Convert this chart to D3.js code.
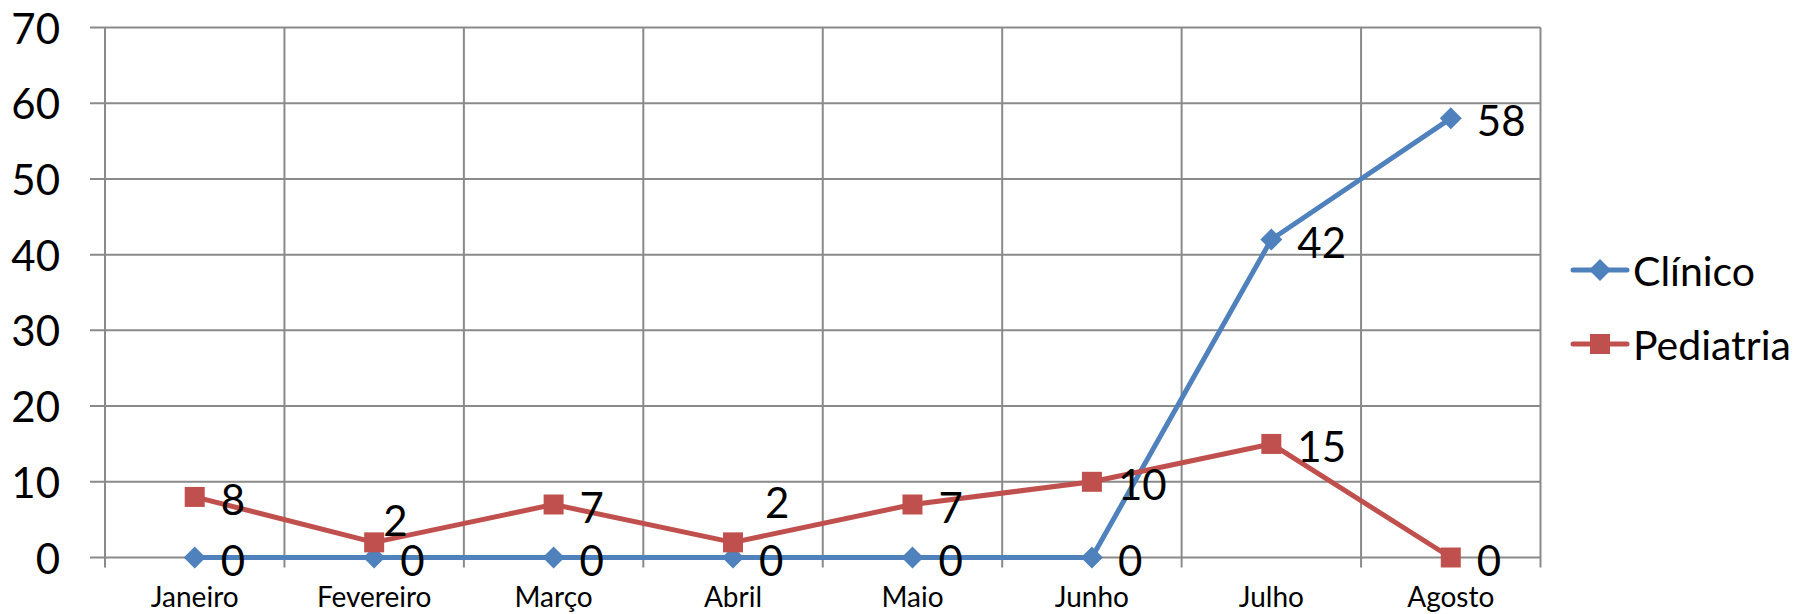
<!DOCTYPE html>
<html>
<head>
<meta charset="utf-8">
<script src="https://cdn.jsdelivr.net/npm/d3@7"></script>
<style>
  html, body { margin: 0; padding: 0; background: #fff; }
  svg { display: block; font-family: Lato, "Open Sans", sans-serif; }
</style>
</head>
<body>
<svg id="chart" width="1808" height="614"></svg>
<script>
// ---- data ----
const categories = ["Janeiro", "Fevereiro", "Março", "Abril", "Maio", "Junho", "Julho", "Agosto"];
const clinico    = [0, 0, 0, 0, 0, 0, 42, 58];
const pediatria  = [8, 2, 7, 2, 7, 10, 15, 0];
const yTicks     = [0, 10, 20, 30, 40, 50, 60, 70];
const seriesNames = ["Clínico", "Pediatria"];

// ---- styles / layout ----
const colors = ["#4F81BD", "#C0504D"];
const gridColor = "#8a8a8a";
const margin = { left: 105, right: 1540.5, top: 27.5, bottom: 557.5 };
// manual label nudges (label moved in the original for two points)
const labelNudge = { "Pediatria|Fevereiro": [9, -22], "Pediatria|Abril": [32, -40] };

const svg = d3.select("#chart");
const x = d3.scaleBand().domain(categories).range([margin.left, margin.right]);
const y = d3.scaleLinear().domain([0, 70]).range([margin.bottom, margin.top]);
const cx = c => x(c) + x.bandwidth() / 2;

// horizontal gridlines (with outward tick)
svg.append("g").selectAll("line").data(yTicks).join("line")
  .attr("x1", margin.left - 15).attr("x2", margin.right)
  .attr("y1", d => y(d)).attr("y2", d => y(d))
  .attr("stroke", gridColor).attr("stroke-width", 2);

// vertical gridlines at category boundaries (with tick below)
const bounds = categories.map(c => x(c)).concat([margin.right]);
svg.append("g").selectAll("line").data(bounds).join("line")
  .attr("x1", d => d).attr("x2", d => d)
  .attr("y1", margin.top).attr("y2", margin.bottom + 10)
  .attr("stroke", gridColor).attr("stroke-width", 2);

// y tick labels
svg.append("g").selectAll("text").data(yTicks).join("text")
  .attr("x", 60).attr("y", d => y(d))
  .attr("text-anchor", "end").attr("dominant-baseline", "central")
  .attr("font-size", 42).attr("fill", "#000")
  .text(d => d);

// x labels
svg.append("g").selectAll("text").data(categories).join("text")
  .attr("x", d => cx(d)).attr("y", 607)
  .attr("text-anchor", "middle")
  .attr("font-size", 28).attr("fill", "#000")
  .text(d => d);

const diamond = "M0,-11L11,0L0,11L-11,0Z";
const square = "M-10,-10H10V10H-10Z";
const markers = [diamond, square];
const seriesData = [clinico, pediatria];

const line = d3.line().x(d => cx(d.c)).y(d => y(d.v));

seriesData.forEach((vals, i) => {
  const pts = vals.map((v, j) => ({ c: categories[j], v }));
  svg.append("path").datum(pts)
    .attr("d", line).attr("fill", "none")
    .attr("stroke", colors[i]).attr("stroke-width", 5)
    .attr("stroke-linejoin", "round").attr("stroke-linecap", "round");
  svg.append("g").selectAll("path").data(pts).join("path")
    .attr("d", markers[i])
    .attr("transform", d => `translate(${cx(d.c)},${y(d.v)})`)
    .attr("fill", colors[i]);
});

// data labels
seriesData.forEach((vals, i) => {
  const pts = vals.map((v, j) => ({ c: categories[j], v }));
  svg.append("g").selectAll("text").data(pts).join("text")
    .attr("x", d => { const n = labelNudge[seriesNames[i] + "|" + d.c]; return cx(d.c) + (n ? n[0] : 26); })
    .attr("y", d => { const n = labelNudge[seriesNames[i] + "|" + d.c]; return y(d.v) + (n ? n[1] : 2); })
    .attr("dominant-baseline", "central")
    .attr("font-size", 42).attr("fill", "#000")
    .text(d => d.v);
});

// legend
const legendY = [270, 344];
seriesNames.forEach((name, i) => {
  const g = svg.append("g");
  g.append("line").attr("x1", 1573).attr("x2", 1627)
    .attr("y1", legendY[i]).attr("y2", legendY[i])
    .attr("stroke", colors[i]).attr("stroke-width", 5).attr("stroke-linecap", "round");
  g.append("path").attr("d", markers[i])
    .attr("transform", `translate(1600,${legendY[i]})`).attr("fill", colors[i]);
  g.append("text").attr("x", 1633).attr("y", legendY[i])
    .attr("dominant-baseline", "central")
    .attr("font-size", 41).attr("fill", "#000")
    .text(name);
});
</script>
</body>
</html>
